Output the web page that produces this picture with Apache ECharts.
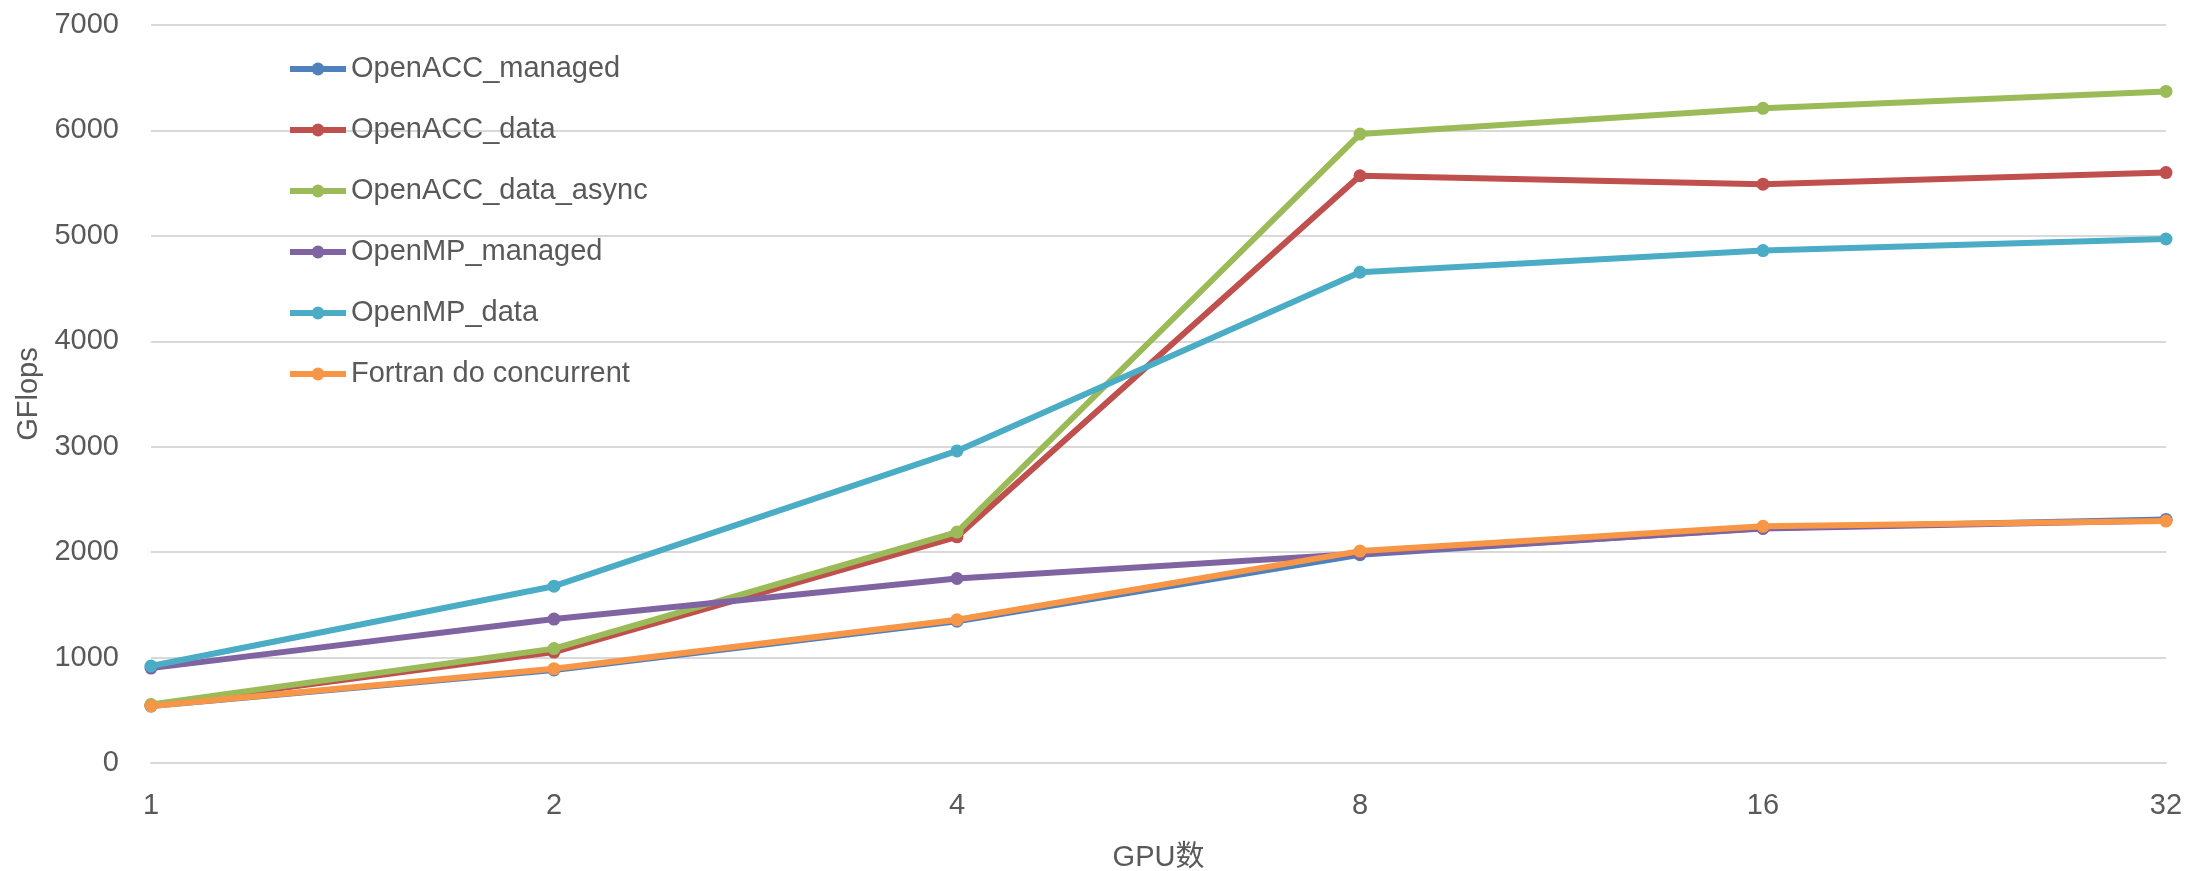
<!DOCTYPE html>
<html>
<head>
<meta charset="utf-8">
<script src="https://cdn.jsdelivr.net/npm/echarts@6/dist/echarts.min.js"></script>
<style>
  html, body { margin: 0; padding: 0; background: #ffffff; }
  #chart { width: 2188px; height: 871px; }
</style>
</head>
<body>
<div id="chart"></div>
<script>
// GPU counts on the horizontal axis
const gpuCounts = ['1', '2', '4', '8', '16', '32'];

// Measured GFlops per implementation
const openaccManaged   = [540, 882, 1345, 1975, 2228, 2310];
const openaccData      = [548, 1052, 2145, 5570, 5490, 5600];
const openaccDataAsync = [556, 1085, 2190, 5965, 6210, 6370];
const openmpManaged    = [900, 1365, 1750, 1985, 2225, 2300];
const openmpData       = [920, 1677, 2960, 4655, 4860, 4970];
const fortranDoConc    = [541, 893, 1358, 2010, 2245, 2295];

const seriesNames = ['OpenACC_managed', 'OpenACC_data', 'OpenACC_data_async',
                     'OpenMP_managed', 'OpenMP_data', 'Fortran do concurrent'];
const seriesData = [openaccManaged, openaccData, openaccDataAsync,
                    openmpManaged, openmpData, fortranDoConc];
const palette = ['#4F81BD', '#C0504D', '#9BBB59', '#8064A2', '#4BACC6', '#F79646'];

const FONT = '"Liberation Sans", Arial, "Noto Sans CJK SC", sans-serif';
const TEXT_COLOR = '#595959';
const FONT_SIZE = 29;
const LINE_WIDTH = 6;

const chart = echarts.init(document.getElementById('chart'), null, { renderer: 'canvas' });

chart.setOption({
  animation: false,
  backgroundColor: '#ffffff',
  color: palette,
  grid: {
    left: 151, right: 22, top: 25, bottom: 108,
    containLabel: false,
    outerBoundsMode: 'none'
  },
  legend: {
    orient: 'vertical',
    left: 282,
    top: 49,
    itemWidth: 56,
    itemHeight: 16,
    itemGap: 31,
    lineStyle: { width: LINE_WIDTH },
    textStyle: { fontFamily: FONT, fontSize: FONT_SIZE, color: TEXT_COLOR, lineHeight: 30 },
    data: seriesNames
  },
  xAxis: {
    type: 'category',
    data: gpuCounts,
    boundaryGap: false,
    name: 'GPU数',
    nameLocation: 'middle',
    nameGap: 80,
    nameTextStyle: { fontFamily: FONT, fontSize: FONT_SIZE, color: TEXT_COLOR },
    axisLine: { show: true, lineStyle: { color: '#d9d9d9', width: 2 } },
    axisTick: { show: false },
    axisLabel: { margin: 28, fontFamily: FONT, fontSize: FONT_SIZE, color: TEXT_COLOR },
    splitLine: { show: false }
  },
  yAxis: {
    type: 'value',
    min: 0,
    max: 7000,
    interval: 1000,
    name: 'GFlops',
    nameLocation: 'middle',
    nameGap: 97,
    nameTextStyle: { fontFamily: FONT, fontSize: FONT_SIZE, color: TEXT_COLOR },
    axisLine: { show: false },
    axisTick: { show: false },
    axisLabel: {
      margin: 32, fontFamily: FONT, fontSize: FONT_SIZE, color: TEXT_COLOR,
      formatter: (v) => String(v)
    },
    splitLine: { show: true, lineStyle: { color: '#d9d9d9', width: 2 } }
  },
  series: seriesNames.map((name, i) => ({
    name: name,
    type: 'line',
    data: seriesData[i],
    symbol: 'circle',
    symbolSize: 13,
    showSymbol: true,
    lineStyle: { width: LINE_WIDTH, color: palette[i] },
    itemStyle: { color: palette[i] },
    z: 2 + i
  }))
});
</script>
</body>
</html>
